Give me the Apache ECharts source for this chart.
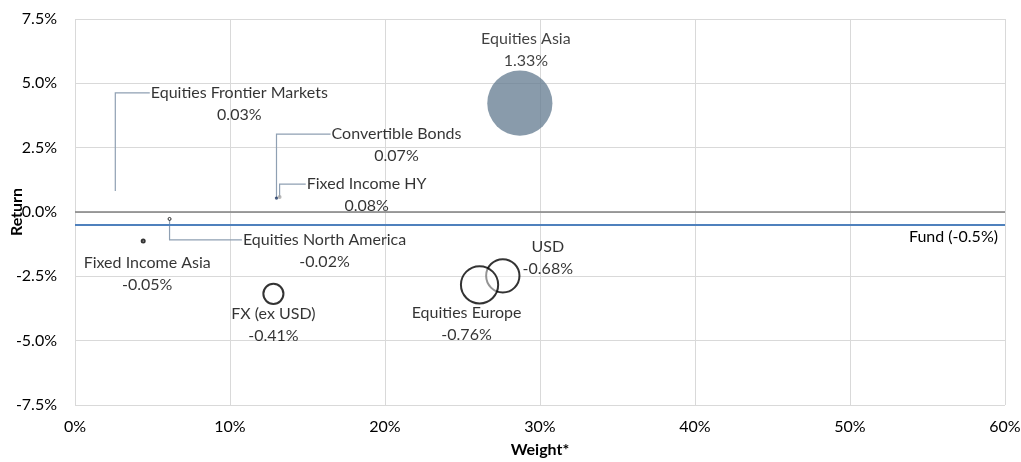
<!DOCTYPE html>
<html>
<head>
<meta charset="utf-8">
<script src="https://cdn.jsdelivr.net/npm/echarts@6/dist/echarts.min.js"></script>
<style>html,body{margin:0;padding:0;background:#fff}#c{width:1021px;height:462px}</style>
</head>
<body>
<div id="c"></div>
<script>
// ---- data ----
const categories = ['Equities Asia','USD','Equities Europe','FX (ex USD)','Fixed Income Asia','Equities North America','Convertible Bonds','Fixed Income HY','Equities Frontier Markets'];
const weights = [28.7, 27.6, 26.1, 12.8, 4.4, 6.1, 13.0, 13.2, 2.6];          // % weight
const returns = [4.23, -2.48, -2.83, -3.18, -1.13, -0.27, 0.54, 0.58, 0.82];   // % return
const contributions = [1.33, -0.68, -0.76, -0.41, -0.05, -0.02, 0.07, 0.08, 0.03]; // % contribution (bubble size)
const fundReturn = -0.5;
const fundLabel = 'Fund (-0.5%)';
const xTicks = [0, 10, 20, 30, 40, 50, 60];
const yTicks = [-7.5, -5.0, -2.5, 0.0, 2.5, 5.0, 7.5];

// ---- styles (not data) ----
const FONT = 'Lato';
const FS = 16;
const TXT = '#000';
const labelOffsets = {      // [dx of label centre, dy of label top] in px from point centre
  'Equities Asia': [6, -75],
  'USD': [45, -40],
  'Equities Europe': [-13, 17],
  'FX (ex USD)': [0, 9],
  'Fixed Income Asia': [4, 11],
  'Equities North America': [155, 10],
  'Convertible Bonds': [120, -75],
  'Fixed Income HY': [87, -24],
  'Equities Frontier Markets': [124, -109]
};
const withLeader = {'Equities North America':1,'Convertible Bonds':1,'Fixed Income HY':1,'Equities Frontier Markets':1};
const pointStyle = {
  'Equities Asia': {color:'#617a8f', opacity:0.75},
  'Convertible Bonds': {color:'#1f3864'},
  'Fixed Income HY': {color:'#a6a6a6'},
  'Equities Frontier Markets': {color:'rgba(0,0,0,0)'},
  'Equities North America': {color:'#fff', borderColor:'#000', borderWidth:1},
};
const negStyle = {color:'rgba(255,255,255,0.6)', borderColor:'#000', borderWidth:2};
const PX_PER_PCT = 49;

const fmtPct1 = v => v.toFixed(1) + '%';
const seriesData = categories.map((name, i) => ({
  name,
  value: [weights[i], returns[i], contributions[i]],
  symbolSize: Math.max(Math.abs(contributions[i]) * PX_PER_PCT, 3),
  itemStyle: pointStyle[name] || (contributions[i] < 0 ? negStyle : {color:'#617a8f'})
}));

const chart = echarts.init(document.getElementById('c'), null, {renderer:'canvas'});
const option = {
  animation: false,
  textStyle: {fontFamily: FONT},
  grid: {left: 75, right: 16, top: 19, bottom: 57, containLabel: false, outerBoundsMode: 'none'},
  xAxis: {
    type: 'value', min: xTicks[0], max: xTicks[xTicks.length-1], interval: 10,
    name: 'Weight*', nameLocation: 'middle', nameGap: 37, nameMoveOverlap: false,
    nameTextStyle: {fontFamily: FONT, fontSize: FS, fontWeight: 'bold', color: TXT},
    axisLine: {show: false}, axisTick: {show: false},
    axisLabel: {formatter: v => v + '%', fontSize: FS, color: TXT, margin: 14, fontFamily: FONT},
    splitLine: {show: true, lineStyle: {color: '#d9d9d9', width: 1}}
  },
  yAxis: {
    type: 'value', min: yTicks[0], max: yTicks[yTicks.length-1], interval: 2.5,
    name: 'Return', nameLocation: 'middle', nameGap: 50, nameRotate: 90, nameMoveOverlap: false,
    nameTextStyle: {fontFamily: FONT, fontSize: FS, fontWeight: 'bold', color: TXT},
    axisLine: {show: false}, axisTick: {show: false},
    axisLabel: {formatter: fmtPct1, fontSize: FS, color: TXT, margin: 18, fontFamily: FONT},
    splitLine: {show: true, lineStyle: {color: '#d9d9d9', width: 1}}
  },
  series: [{
    type: 'scatter',
    data: seriesData,
    z: 3,
    label: {
      show: true,
      formatter: p => p.name + '\n' + p.value[2].toFixed(2) + '%',
      fontFamily: FONT, fontSize: FS, color: TXT, lineHeight: 22, align: 'center'
    },
    labelLayout: function (params) {
      const name = categories[params.dataIndex];
      const off = labelOffsets[name];
      const r = params.rect;
      return {x: r.x + r.width/2 + off[0], y: r.y + r.height/2 + off[1], align: 'center', verticalAlign: 'top'};
    },
    markLine: {
      silent: true, symbol: 'none', z: 2,
      data: [
        {yAxis: 0, lineStyle: {color: '#7f7f7f', width: 1.5, type: 'solid'}, label: {show: false}},
        {yAxis: fundReturn, lineStyle: {color: '#4f81bd', width: 2, type: 'solid'},
         label: {show: true, position: 'insideEndBottom', formatter: fundLabel, fontFamily: FONT, fontSize: FS, color: TXT, distance: 4, padding: [0, 3, 0, 0]}}
      ]
    }
  }]
};
chart.setOption(option);

// leader lines (elbow style) computed from data points and label offsets
const ctx = document.createElement('canvas').getContext('2d');
ctx.font = FS + 'px ' + FONT;
const graphics = [];
categories.forEach((name, i) => {
  if (!withLeader[name]) return;
  const p = chart.convertToPixel({seriesIndex: 0}, [weights[i], returns[i]]);
  const off = labelOffsets[name];
  const w = ctx.measureText(name).width;
  const cx = p[0] + off[0];
  const ly = p[1] + off[1] + 11;
  const left = cx - w/2 - 1;
  graphics.push({
    type: 'polyline', z: 1, silent: true,
    shape: {points: [[p[0], p[1]], [p[0], ly], [left, ly]]},
    style: {stroke: '#8fa0b3', lineWidth: 1.2, fill: null}
  });
});
chart.setOption({graphic: graphics});
</script>
</body>
</html>
